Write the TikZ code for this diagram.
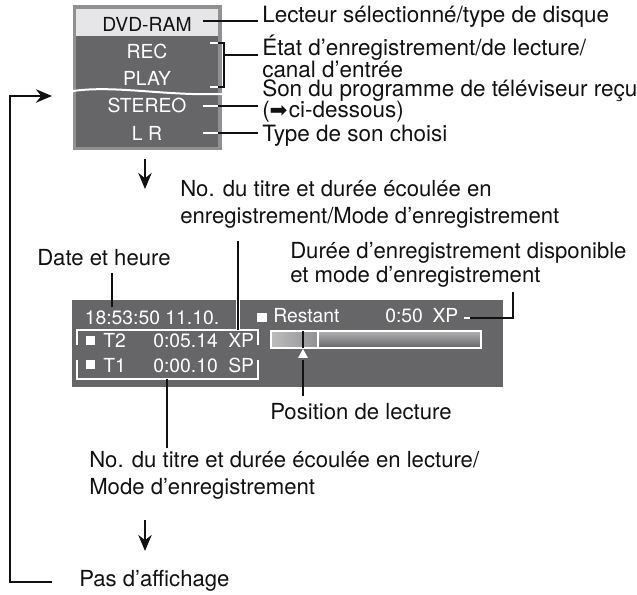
\documentclass[tikz,border=0pt]{standalone}
\usepackage{fontspec}
\usepackage{xcolor}
\setmainfont{TeX Gyre Heros}
\newfontfamily\symfont{DejaVu Sans}
\usetikzlibrary{arrows.meta}
\definecolor{panel}{HTML}{666668}
\definecolor{frame}{HTML}{909092}
\definecolor{topbar}{HTML}{E6E6E8}
\definecolor{ink}{HTML}{111111}
\tikzset{
  lbl/.style={anchor=base west,inner sep=0pt,text=ink,font=\fontsize{16.6}{16.5}\selectfont,align=left},
  lbltop/.style={lbl,font=\fontsize{16.85}{16.5}\selectfont},
  lcd/.style={anchor=base,inner sep=0pt,text=white,font=\fontsize{14.5}{16}\selectfont},
  lead/.style={draw=ink,line width=1.7pt},
  halo/.style={draw=white,line width=2.2pt},
  flow/.style={draw=ink,line width=1.6pt,-{Stealth[length=12pt,width=10pt]}},
}
\begin{document}
\begin{tikzpicture}[x=.75pt,y=-.75pt]
  \useasboundingbox (0,0) rectangle (637,595);

  \fill[frame] (73,5) rectangle (222,150);
  \fill[panel] (76,36) rectangle (218,147);
  \fill[topbar] (76,9) rectangle (218,36);
  \draw[white,line width=1.5pt] (73,91) .. controls (115,85) and (165,96) .. (222,94);

  \path (147,32) node (tdvd) [lcd,text=ink] {DVD-RAM}
    ++(0,27) node (trec) [lcd] {REC}
    ++(0,27) node (tplay) [lcd] {PLAY}
    ++(0,27) node (tstereo) [lcd] {STEREO}
    ++(0,28) node (tlr) [lcd] {L R};

  \node (llect) at (262,23) [lbltop] {Lecteur sélectionné/type de disque};
  \node (letat) at (262,56.5) [lbltop,anchor=west] {État d’enregistrement/de lecture/\\canal d’entrée};
  \node (lson) at (262,97) [lbltop] {Son du programme de téléviseur reçu};
  \node (lsuite) at (262,118) [lbltop] {({\symfont\fontsize{16}{15}\selectfont ➡}\hspace{1pt}ci-dessous)};
  \node (ltype) at (262,142) [lbltop] {Type de son choisi};

  \coordinate (cdvd) at (203,21);
  \coordinate (cstereo) at (203,106);
  \coordinate (clr) at (203,133);
  \coordinate (ctop) at (210,43);
  \coordinate (cbot) at (210,87);
  \coordinate (cmid) at (224,55);
  \draw[lead,shorten >=3pt] (cdvd) -- (cdvd -| llect.west);
  \draw[lead,shorten >=3pt] (cmid) -- (cmid -| letat.west);
  \draw[lead] (ctop) ++(2,0) -- ++(12,0) -- ++(0,44) -- ++(-12,0);
  \draw[halo] (ctop) -- ++(8,0) (cbot) -- ++(8,0);
  \draw[lead,shorten >=3pt] (cstereo) -- (cstereo -| lsuite.west);
  \draw[lead,shorten >=3pt] (clr) -- (clr -| ltype.west);
  \draw[halo] (cstereo) -- ++(15,0) (clr) -- ++(15,0);

  \coordinate (dn1) at (145,159);
  \coordinate (dn1e) at (145,189);
  \draw[flow] (dn1) -- (dn1e);

  \node (ltitre) at (180,197) [lbl] {No. du titre et durée écoulée en};
  \node (lenreg) at (180,224) [lbl] {enregistrement/Mode d’enregistrement};
  \node (ldispo) at (290,259) [lbl] {Durée d’enregistrement disponible};
  \node (lmode) at (290,283) [lbl] {et mode d’enregistrement};
  \node (ldate) at (37,266) [lbl] {Date et heure};

  \fill[panel] (72,300) rectangle (503,387);

  \node (thour) at (152,325) [lcd] {18:53:50 11.10.};
  \fill[white] (257,313) rectangle (267,322);
  \node (trest) at (273,323) [lcd,anchor=base west] {Restant};
  \node (trem) at (385,323) [lcd,anchor=base west] {0:50\hspace{.5em}XP};
  \fill[white] (86,336) rectangle (95,345);
  \node (tt2) at (103,348) [lcd,anchor=base west] {T2};
  \node (tt2d) at (153,348) [lcd,anchor=base west] {0:05.14};
  \node (tt2m) at (228,348) [lcd,anchor=base west] {XP};
  \fill[white] (86,360) rectangle (95,369);
  \node (tt1) at (103,373) [lcd,anchor=base west] {T1};
  \node (tt1d) at (153,373) [lcd,anchor=base west] {0:00.10};
  \node (tt1m) at (228,373) [lcd,anchor=base west] {SP};

  \shade[left color=frame!60!white,right color=frame] (271,331) rectangle (318,348);
  \shade[top color=frame!70!white,bottom color=panel] (318,331) rectangle (481,348);
  \draw[white,line width=.8pt] (271,331) rectangle (481,348) (318,331) -- (318,348);
  \draw[ink,line width=.8pt] (303,331) -- (303,348);
  \fill[white] (303,349) -- (308,358) -- (298,358) -- cycle;

  \draw[white,line width=.9pt] (77,345) -- (77,330) -- (258,330) -- (258,345);
  \draw[white,line width=.9pt] (77,360) -- (77,379) -- (258,379) -- (258,360);

  \node (lpos) at (270,420) [lbl] {Position de lecture};
  \node (llect2) at (89,468) [lbl] {No. du titre et durée écoulée en lecture/};
  \node (lmode2) at (89,495) [lbl] {Mode d’enregistrement};
  \node (lpas) at (79,587) [lbl] {Pas d’affichage};

  \coordinate (cdate) at (112,307);
  \coordinate (crem) at (464,318);
  \coordinate (ctt) at (238,330);
  \coordinate (cbt) at (167,379);
  \coordinate (ctri) at (303,360);
  \draw[lead,shorten >=5pt] (cdate) -- (cdate |- ldate.south);
  \draw[draw=white,line width=3.5pt] (ctt) -- ++(0,-30);
  \draw[lead,shorten >=9pt] (ctt) -- (ctt |- lenreg.south);
  \draw[lead,shorten >=3pt] (cbt) -- (cbt |- llect2.north);
  \draw[lead,shorten >=6pt] (ctri) -- (ctri |- lpos.north);
  \draw[lead] (crem) -- ++(49,0) -- (513,292);
  \draw[halo] (crem) -- ++(6,0);

  \coordinate (dn2) at (145,520);
  \coordinate (dn2e) at (145,551);
  \draw[flow] (dn2) -- (dn2e);

  \coordinate (back) at (52,96);
  \draw[flow] (lpas.west) ++(-27,1) -- ++(-42,0) |- (back);
\end{tikzpicture}
\end{document}
